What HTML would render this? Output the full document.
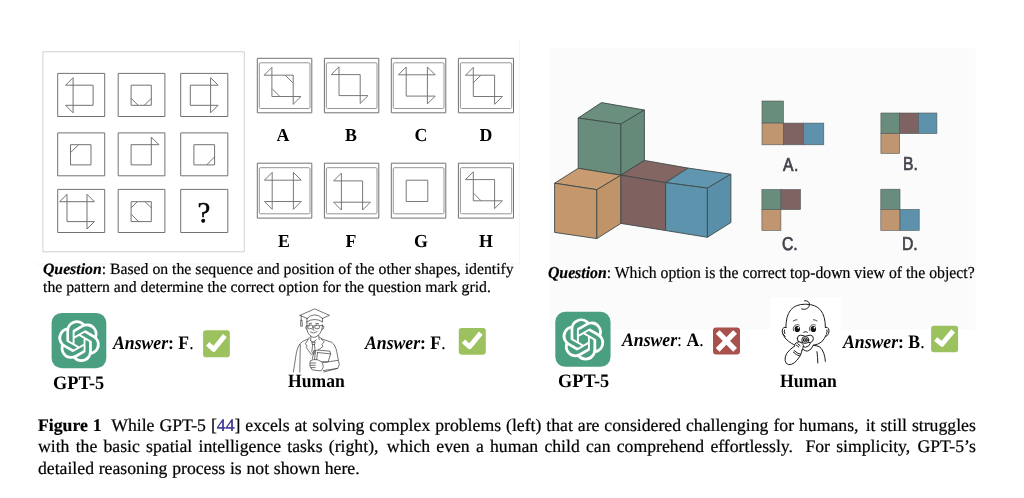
<!DOCTYPE html>
<html><head><meta charset="utf-8"><title>Figure 1</title>
<style>
html,body{margin:0;padding:0;background:#fff;}
body{width:1024px;height:498px;position:relative;overflow:hidden;font-family:"Liberation Serif",serif;color:#000;}
.abs{position:absolute;white-space:nowrap;line-height:1;will-change:transform;text-rendering:geometricPrecision;transform-origin:0 83.75%;}
#panel{position:absolute;left:549.3px;top:48.1px;width:426.1px;height:281.3px;background:#fbfbfb;}
svg#art{position:absolute;left:0;top:0;}
.lbl{font-weight:bold;font-size:17.8px;transform:translateX(-50%) scaleY(1.03);}
.q{font-size:15.75px;-webkit-text-stroke:0.2px #000;}
.ans{font-size:17.7px;transform:scaleY(1.07);}
.name{font-weight:bold;font-size:18.3px;transform:scaleY(1.04);}
.nameh{font-weight:bold;font-size:17.6px;transform:scaleY(1.07);}
.opt{font-family:"Liberation Sans",sans-serif;font-size:15.7px;color:#42424b;transform-origin:0 84.65%;transform:scaleY(1.185);-webkit-text-stroke:0.6px #42424b;}
.sp{display:inline-block;width:2.2px;}
.cap{-webkit-text-stroke:0.22px #000;font-size:17.7px;left:38.4px;width:937.8px;text-align:justify;text-align-last:justify;white-space:normal;}
b i, i b{font-weight:bold;font-style:italic;}
</style></head><body>
<svg id="art" width="1024" height="498" viewBox="0 0 1024 498">
<rect x="549.3" y="48.1" width="426.1" height="281.4" fill="#fbfbfb"/>
<defs><filter id="soft" x="-2%" y="-2%" width="104%" height="104%"><feGaussianBlur stdDeviation="0.5"/></filter><filter id="soft2" x="-5%" y="-5%" width="110%" height="110%"><feGaussianBlur stdDeviation="0.3"/></filter></defs>
<g>
<path d="M42.9 51.8H244.3V251.8H42.9Z" fill="none" stroke="#cfcfcf" stroke-width="0.95"/>
<path d="M57.7 73.4H104.7V116.5H57.7ZM57.7 132.9H104.7V175.8H57.7ZM57.7 189.4H104.7V232.5H57.7ZM118.2 73.4H164.9V116.5H118.2ZM118.2 132.9H164.9V175.8H118.2ZM118.2 189.4H164.9V232.5H118.2ZM180.7 73.4H227.8V116.5H180.7ZM180.7 132.9H227.8V175.8H180.7ZM180.7 189.4H227.8V232.5H180.7Z" fill="none" stroke="#727272" stroke-width="1"/>
<path d="M73.1 77.7V112.8M93.1 85.2V105.3M65.6 85.2H93.1M65.6 105.3H93.1M65.6 85.2L73.1 77.7M65.6 105.3L73.1 112.8M131.1 85.2V105.3M151.3 85.2V105.3M131.1 85.2H151.3M131.1 105.3H151.3M131.1 98.3L138.1 105.3M151.3 98.3L144.3 105.3M190.3 85.2V105.3M210.6 77.7V112.8M190.3 85.2H218.1M190.3 105.3H218.1M218.1 85.2L210.6 77.7M218.1 105.3L210.6 112.8M70.5 144.7V164.9M91 144.7V164.9M70.5 144.7H91M70.5 164.9H91M70.5 152.7L78.5 144.7M131.1 144.7V164.9M151.3 137.1V164.9M131.1 144.7H158.9M131.1 164.9H151.3M158.9 144.7L151.3 137.1M193.9 144.7V164.9M214.6 144.7V164.9M193.9 144.7H214.6M193.9 164.9H214.6M214.6 156.9L206.6 164.9M67 194.3V221.6M87 194.3V229M59.6 201.7H94.4M67 221.6H94.4M59.6 201.7L67 194.3M94.4 201.7L87 194.3M94.4 221.6L87 229M131.1 201.7V221.6M151.3 201.7V221.6M131.1 201.7H151.3M131.1 221.6H151.3M131.1 207.9L137.3 201.7M151.3 207.9L145.1 201.7M131.1 214.2L138.5 221.6" fill="none" stroke="#727272" stroke-width="1"/>
<path d="M257.3 58.3H311.8V112.8H257.3ZM257.3 163.2H311.8V218.1H257.3ZM324.4 58.3H378.8V112.8H324.4ZM324.4 163.2H378.8V218.1H324.4ZM391.3 58.3H445.8V112.8H391.3ZM391.3 163.2H445.8V218.1H391.3ZM458.4 58.3H513.5V112.8H458.4ZM458.4 163.2H513.5V218.1H458.4Z" fill="none" stroke="#727272" stroke-width="1"/>
<rect x="259.3" y="62.8" width="50.7" height="45.7" rx="1.2" fill="none" stroke="#909090" stroke-width="0.95"/>
<rect x="259.3" y="167.7" width="50.7" height="46.1" rx="1.2" fill="none" stroke="#909090" stroke-width="0.95"/>
<rect x="326.4" y="62.8" width="50.6" height="45.7" rx="1.2" fill="none" stroke="#909090" stroke-width="0.95"/>
<rect x="326.4" y="167.7" width="50.6" height="46.1" rx="1.2" fill="none" stroke="#909090" stroke-width="0.95"/>
<rect x="393.3" y="62.8" width="50.7" height="45.7" rx="1.2" fill="none" stroke="#909090" stroke-width="0.95"/>
<rect x="393.3" y="167.7" width="50.7" height="46.1" rx="1.2" fill="none" stroke="#909090" stroke-width="0.95"/>
<rect x="460.4" y="62.8" width="51.3" height="45.7" rx="1.2" fill="none" stroke="#909090" stroke-width="0.95"/>
<rect x="460.4" y="167.7" width="51.3" height="46.1" rx="1.2" fill="none" stroke="#909090" stroke-width="0.95"/>
<path d="M271.9 67.4V96.5M293.2 75.2V104.3M264.1 75.2H293.2M271.9 96.5H301M264.1 75.2L271.9 67.4M301 96.5L293.2 104.3M293.2 83.2L285.2 75.2M271.9 88.5L279.9 96.5M339 66.8V95.6M360.2 74.6V103.4M331.2 74.6H360.2M339 95.6H368M331.2 74.6L339 66.8M368 95.6L360.2 103.4M406.2 67V96.1M427.4 67V103.9M398.4 74.8H435.2M406.2 96.1H435.2M398.4 74.8L406.2 67M435.2 74.8L427.4 67M435.2 96.1L427.4 103.9M473.3 67.4V96.5M494.6 75.2V104.3M465.5 75.2H494.6M473.3 96.5H502.4M465.5 75.2L473.3 67.4M502.4 96.5L494.6 104.3M473.3 82.8L480.9 75.2M272.2 172.4V209.3M293.4 172.4V209.3M264.4 180.2H301.2M264.4 201.5H301.2M264.4 180.2L272.2 172.4M301.2 180.2L293.4 172.4M264.4 201.5L272.2 209.3M301.2 201.5L293.4 209.3M341.4 173.1V210M362.6 180.9V210M333.6 180.9H362.6M333.6 202.2H370.4M333.6 180.9L341.4 173.1M333.6 202.2L341.4 210M370.4 202.2L362.6 210M406.2 180.2V201.5M427.8 180.2V201.5M406.2 180.2H427.8M406.2 201.5H427.8M473.3 171.8V200.8M494.6 179.6V208.6M465.5 179.6H494.6M473.3 200.8H502.4M465.5 179.6L473.3 171.8M502.4 200.8L494.6 208.6M473.3 193L481.1 200.8" fill="none" stroke="#727272" stroke-width="0.95"/>
</g>
<polygon points="578.2,118 601.5,102.6 644.4,110 620.9,124.1" fill="#6a8f7e" stroke="#3f4a4a" stroke-width="0.9" stroke-linejoin="round"/>
<polygon points="578.2,118 620.9,124.1 620.9,175.2 578.2,168.3" fill="#688d7c" stroke="#3f4a4a" stroke-width="0.9" stroke-linejoin="round"/>
<polygon points="620.9,124.1 644.4,110 644.4,160.4 620.9,175.2" fill="#668a79" stroke="#3f4a4a" stroke-width="0.9" stroke-linejoin="round"/>
<polygon points="554.6,183.2 578.2,168.3 620.9,175.2 596.8,189.7" fill="#c89b70" stroke="#3f4a4a" stroke-width="0.9" stroke-linejoin="round"/>
<polygon points="554.6,183.2 596.8,189.7 596.8,238.6 554.6,232.4" fill="#c4976c" stroke="#3f4a4a" stroke-width="0.9" stroke-linejoin="round"/>
<polygon points="596.8,189.7 620.9,175.2 620.9,223.4 596.8,238.6" fill="#c09369" stroke="#3f4a4a" stroke-width="0.9" stroke-linejoin="round"/>
<polygon points="620.9,175.2 644.4,160.4 688.1,168.1 665.6,182.6" fill="#836562" stroke="#3f4a4a" stroke-width="0.9" stroke-linejoin="round"/>
<polygon points="620.9,175.2 665.6,182.6 665.6,230.5 620.9,223.4" fill="#7f6260" stroke="#3f4a4a" stroke-width="0.9" stroke-linejoin="round"/>
<polygon points="665.6,182.6 688.1,168.1 730.9,174.2 707.4,188.1" fill="#6096b0" stroke="#3f4a4a" stroke-width="0.9" stroke-linejoin="round"/>
<polygon points="665.6,182.6 707.4,188.1 707.4,237.3 665.6,230.5" fill="#5d93ad" stroke="#3f4a4a" stroke-width="0.9" stroke-linejoin="round"/>
<polygon points="707.4,188.1 730.9,174.2 730.9,222.5 707.4,237.3" fill="#5a8fa9" stroke="#3f4a4a" stroke-width="0.9" stroke-linejoin="round"/>
<rect x="762" y="101" width="21.5" height="22.1" fill="#698d7c" stroke="#4f5858" stroke-width="0.6"/>
<rect x="762" y="123.1" width="21.5" height="21.7" fill="#c09670" stroke="#4f5858" stroke-width="0.6"/>
<rect x="783.5" y="123.1" width="20" height="21.7" fill="#7f6362" stroke="#4f5858" stroke-width="0.6"/>
<rect x="803.5" y="123.1" width="20.3" height="21.7" fill="#5e91ab" stroke="#4f5858" stroke-width="0.6"/>
<rect x="880.9" y="113" width="18.7" height="20.6" fill="#698d7c" stroke="#4f5858" stroke-width="0.6"/>
<rect x="899.6" y="113" width="18.8" height="20.6" fill="#7f6362" stroke="#4f5858" stroke-width="0.6"/>
<rect x="918.4" y="113" width="18.5" height="20.6" fill="#5e91ab" stroke="#4f5858" stroke-width="0.6"/>
<rect x="880.9" y="133.6" width="18.7" height="19.8" fill="#c09670" stroke="#4f5858" stroke-width="0.6"/>
<rect x="761.9" y="189.5" width="19" height="20.1" fill="#698d7c" stroke="#4f5858" stroke-width="0.6"/>
<rect x="780.9" y="189.5" width="19.6" height="20.1" fill="#7f6362" stroke="#4f5858" stroke-width="0.6"/>
<rect x="761.9" y="209.6" width="19" height="20.8" fill="#c09670" stroke="#4f5858" stroke-width="0.6"/>
<rect x="880.8" y="189.2" width="19.2" height="20.2" fill="#698d7c" stroke="#4f5858" stroke-width="0.6"/>
<rect x="880.8" y="209.4" width="19.2" height="21" fill="#c09670" stroke="#4f5858" stroke-width="0.6"/>
<rect x="900" y="209.4" width="19.2" height="21" fill="#5e91ab" stroke="#4f5858" stroke-width="0.6"/>
<rect x="51.6" y="312.9" width="54.7" height="55.4" rx="10" fill="#4a9f80"/><path transform="translate(58.18 320.3) scale(1.74)" fill="#fff" d="M22.2819 9.8211a5.9847 5.9847 0 0 0-.5157-4.9108 6.0462 6.0462 0 0 0-6.5098-2.9A6.0651 6.0651 0 0 0 4.9807 4.1818a5.9847 5.9847 0 0 0-3.9977 2.9 6.0462 6.0462 0 0 0 .7427 7.0966 5.98 5.98 0 0 0 .511 4.9107 6.051 6.051 0 0 0 6.5146 2.9001A5.9847 5.9847 0 0 0 13.2599 24a6.0557 6.0557 0 0 0 5.7718-4.2058 5.9894 5.9894 0 0 0 3.9977-2.9001 6.0557 6.0557 0 0 0-.7475-7.0729zm-9.022 12.6081a4.4755 4.4755 0 0 1-2.8764-1.0408l.1419-.0804 4.7783-2.7582a.7948.7948 0 0 0 .3927-.6813v-6.7369l2.02 1.1686a.071.071 0 0 1 .038.052v5.5826a4.504 4.504 0 0 1-4.4945 4.4944zm-9.6607-4.1254a4.4708 4.4708 0 0 1-.5346-3.0137l.142.0852 4.783 2.7582a.7712.7712 0 0 0 .7806 0l5.8428-3.3685v2.3324a.0804.0804 0 0 1-.0332.0615L9.74 19.9502a4.4992 4.4992 0 0 1-6.1408-1.6464zM2.3408 7.8956a4.485 4.485 0 0 1 2.3655-1.9728V11.6a.7664.7664 0 0 0 .3879.6765l5.8144 3.3543-2.0201 1.1685a.0757.0757 0 0 1-.071 0l-4.8303-2.7865A4.504 4.504 0 0 1 2.3408 7.872zm16.5963 3.8558L13.1038 8.364 15.1192 7.2a.0757.0757 0 0 1 .071 0l4.8303 2.7913a4.4944 4.4944 0 0 1-.6765 8.1042v-5.6772a.79.79 0 0 0-.407-.667zm2.0107-3.0231l-.142-.0852-4.7735-2.7818a.7759.7759 0 0 0-.7854 0L9.409 9.2297V6.8974a.0662.0662 0 0 1 .0284-.0615l4.8303-2.7866a4.4992 4.4992 0 0 1 6.6802 4.66zM8.3065 12.863l-2.02-1.1638a.0804.0804 0 0 1-.038-.0567V6.0742a4.4992 4.4992 0 0 1 7.3757-3.4537l-.142.0805L8.704 5.459a.7948.7948 0 0 0-.3927.6813zm1.0976-2.3654l2.602-1.4998 2.6069 1.4998v2.9994l-2.5974 1.4997-2.6067-1.4997Z"/>
<rect x="555.3" y="311.75" width="55.25" height="55.1" rx="10" fill="#4a9f80"/><path transform="translate(562.38 318.4) scale(1.75)" fill="#fff" d="M22.2819 9.8211a5.9847 5.9847 0 0 0-.5157-4.9108 6.0462 6.0462 0 0 0-6.5098-2.9A6.0651 6.0651 0 0 0 4.9807 4.1818a5.9847 5.9847 0 0 0-3.9977 2.9 6.0462 6.0462 0 0 0 .7427 7.0966 5.98 5.98 0 0 0 .511 4.9107 6.051 6.051 0 0 0 6.5146 2.9001A5.9847 5.9847 0 0 0 13.2599 24a6.0557 6.0557 0 0 0 5.7718-4.2058 5.9894 5.9894 0 0 0 3.9977-2.9001 6.0557 6.0557 0 0 0-.7475-7.0729zm-9.022 12.6081a4.4755 4.4755 0 0 1-2.8764-1.0408l.1419-.0804 4.7783-2.7582a.7948.7948 0 0 0 .3927-.6813v-6.7369l2.02 1.1686a.071.071 0 0 1 .038.052v5.5826a4.504 4.504 0 0 1-4.4945 4.4944zm-9.6607-4.1254a4.4708 4.4708 0 0 1-.5346-3.0137l.142.0852 4.783 2.7582a.7712.7712 0 0 0 .7806 0l5.8428-3.3685v2.3324a.0804.0804 0 0 1-.0332.0615L9.74 19.9502a4.4992 4.4992 0 0 1-6.1408-1.6464zM2.3408 7.8956a4.485 4.485 0 0 1 2.3655-1.9728V11.6a.7664.7664 0 0 0 .3879.6765l5.8144 3.3543-2.0201 1.1685a.0757.0757 0 0 1-.071 0l-4.8303-2.7865A4.504 4.504 0 0 1 2.3408 7.872zm16.5963 3.8558L13.1038 8.364 15.1192 7.2a.0757.0757 0 0 1 .071 0l4.8303 2.7913a4.4944 4.4944 0 0 1-.6765 8.1042v-5.6772a.79.79 0 0 0-.407-.667zm2.0107-3.0231l-.142-.0852-4.7735-2.7818a.7759.7759 0 0 0-.7854 0L9.409 9.2297V6.8974a.0662.0662 0 0 1 .0284-.0615l4.8303-2.7866a4.4992 4.4992 0 0 1 6.6802 4.66zM8.3065 12.863l-2.02-1.1638a.0804.0804 0 0 1-.038-.0567V6.0742a4.4992 4.4992 0 0 1 7.3757-3.4537l-.142.0805L8.704 5.459a.7948.7948 0 0 0-.3927.6813zm1.0976-2.3654l2.602-1.4998 2.6069 1.4998v2.9994l-2.5974 1.4997-2.6067-1.4997Z"/>
<g transform="translate(203.1 330.3) scale(0.99 1)"><rect width="27" height="27" rx="2.8" fill="#9cc25f"/><path d="M4.6 13.5L10.8 19L22 5.3" fill="none" stroke="#fff" stroke-width="4.9" stroke-linejoin="round"/></g>
<g transform="translate(458.8 327.9) scale(1 0.99)"><rect width="27" height="27" rx="2.8" fill="#9cc25f"/><path d="M4.6 13.5L10.8 19L22 5.3" fill="none" stroke="#fff" stroke-width="4.9" stroke-linejoin="round"/></g>
<g transform="translate(713 327.4) scale(1 1)"><rect width="27" height="27" rx="3.2" fill="#a9514c"/><path d="M4.7 4.6L22.1 22.4M22.1 4.6L4.7 22.4" fill="none" stroke="#fff" stroke-width="5.3"/></g>
<g transform="translate(931.1 325.7) scale(1 0.98)"><rect width="27" height="27" rx="2.8" fill="#9cc25f"/><path d="M4.6 13.5L10.8 19L22 5.3" fill="none" stroke="#fff" stroke-width="4.9" stroke-linejoin="round"/></g>
<path d="M36 264H519.5V40" fill="none" stroke="#f4f4f4" stroke-width="1"/>

<g fill="none" stroke="#3a3a3a" stroke-width="0.7" stroke-linecap="round" stroke-linejoin="round">
<path d="M299.9 315.4L314.6 308.9L329.4 315.3L322.6 318.4M299.9 315.4L307 318.4"/>
<path d="M307 318.4Q314.6 311 322.6 318.4M307 318.4L306.9 321.8M322.6 318.4L322.6 321.8M306.9 321.8Q314.6 317 322.6 321.8"/>
<path d="M301.2 316V320.5M300.8 320.5L300.5 326.2H302.4L302 320.5Z"/>
<path d="M306.9 321.8L307 329.9Q307.6 333.4 309.5 334.9Q311.6 337.3 313.5 337.4Q316 337.3 317.9 335.6Q320.6 333.2 321.8 329.9L322.6 325.2"/>
<path d="M322.6 325.6Q324.2 325.6 323.8 327.6Q323.4 329.4 322 329.6M306.8 325.9Q305.3 326 305.8 327.8Q306.1 329.3 307 329.6"/>
<rect x="308" y="325.1" width="4.6" height="3.6" rx="1.4"/><rect x="314.8" y="325.1" width="4.6" height="3.6" rx="1.4"/>
<path d="M312.6 326H314.8M319.4 325.9L322.6 325.2M308 326L306.9 325.7"/>
<path d="M313.5 327.4L312.9 329.9L314.2 330.2M310.5 332.1Q313.4 334.4 317.1 331.7"/>
<path d="M309 323.6L311.6 323.3M315.8 323.3L318.4 323.6"/>
<path d="M310.8 336V340.2M318.7 335.4L319.2 339.5"/>
<path d="M310.3 340.2L312.9 342.8L316.1 339.9M312.2 341.9H315.1L314.5 344.5H312.7ZM312.7 344.5L311.8 351.8L313.7 354.7L315.1 351L314.5 344.5"/>
<path d="M309.3 337.6L305.4 343.8L307.2 346L306.2 347.4L311.5 354.7"/>
<path d="M319.5 337L324.2 341.9L321.9 344.5L323.1 346.3L318 350.3"/>
<path d="M307.9 339Q301.5 341.5 299.9 343.8Q297.5 347 296.3 353.2L293.4 372"/>
<path d="M300.3 344.6L299.8 372.2"/>
<path d="M321.3 338.7L331.8 342.4Q335.5 345 336.8 351.8L339.3 364.8L337.6 368.4L323.8 372"/>
<path d="M317.6 352.5L330.6 353.9L328.1 361.9L321.9 361.6M313.7 351L317.6 350L330 351.2L330.6 353.9M313.7 351L312.4 359M317.6 352.5L316.6 359.6M315.6 351.4L314.5 359.3"/>
<path d="M310.5 360.7Q313 359 317.3 359.7L321.9 361.9Q323.4 364.5 323.1 367.7L320.9 370.9L312.2 369.9L310.1 366.2Z"/>
<path d="M310.6 363H315.5M310.3 365.3H315.2M311 367.6H315.2"/>
<path d="M323.4 362.6L337.6 360.4M323.1 370.6L337.6 368.4"/>
</g>

<rect x="770.7" y="297.5" width="70" height="74" fill="#fff"/>
<g fill="none" stroke="#1e1e1e" stroke-width="1" stroke-linecap="round" stroke-linejoin="round">
<path d="M785.9 327.6C785.9 312.2 791.7 304.2 805.5 304.2C819.3 304.2 825.3 312.2 825.4 327.4"/>
<path d="M782.8 334Q784.6 338.6 788.5 341.3Q791 343.3 794.3 344.8M826.2 334.8Q824.6 339 821.4 342.1Q818 344.6 813.4 345.3"/>
<path d="M804.5 300.8Q806.8 300.4 808.1 301.6Q809.8 303 809.4 304.8Q809.2 306.8 807.7 308.1Q806.4 309.2 804.5 309.3Q803 309.4 801.7 308.9"/>
<path d="M786 327.4Q783.6 326.8 782.6 328.8Q781.8 331 782.6 333.2Q783.4 335.4 785.2 336.4M784.4 330Q783.8 331.6 784.8 333.6M825.4 327.4Q827.6 326.6 828.6 328.8Q829.4 331 828.6 333.4Q827.8 335.6 826 336.4M827 330Q827.6 331.8 826.6 333.6"/>
<path d="M793.3 320.9Q795 319.8 796.9 319.7M813.4 319.7Q815.4 319.8 817 320.9" stroke-width="0.8"/>
<path d="M803.7 332.2Q805.5 330.8 807.3 332.2"/>
<path d="M797.3 338.6Q797.3 335.4 800.4 335.2Q803 335.4 805.3 336.3Q807.8 335.4 810.4 335.2Q813.4 335.4 813.4 338.6Q813.3 341.8 810.6 342.4Q808 342.6 805.3 342.2Q802.6 342.6 800 342.4Q797.4 341.8 797.3 338.6Z" fill="#fff"/>
<path d="M800.7 343.3Q801.2 346.6 805.3 347.3Q809.6 346.8 810.6 342.9"/>
<circle cx="805.3" cy="340" r="3.5" fill="#fff"/><circle cx="805.3" cy="340" r="2"/><circle cx="805.3" cy="340" r="0.7"/>
<path d="M794.5 346.1Q794.6 343.8 796.1 342.9Q797.6 341.8 799.3 341.9Q801.2 342.2 802.1 343.3Q803.2 344.4 803.3 345.7Q803.4 348 802.1 350.1" fill="#fff"/>
<path d="M797.7 343.7L800.1 345.7M796.4 345.2L798.8 347"/>
<path d="M794.5 346.1Q789.6 349.4 786.8 353.3Q784.6 357 785.1 360.5Q785.8 364.2 788.5 364.6Q791.6 364.8 794.1 363Q797.4 360.4 799.7 356.5Q801.4 353.4 802.1 350.1"/>
<path d="M794.1 350.5Q797 353.4 800.9 354.5M793.3 352.1Q796.2 355 799.7 356.1"/>
<path d="M803.3 349.7Q805.4 351.2 807.7 351.1Q811.2 350.2 813.4 345.3"/>
<path d="M813.4 345.3Q817.4 345.6 819.8 346.9Q822.6 349.6 823.8 353.3Q825.2 357.6 825.4 361.4M817 351.7Q817.8 357.6 817.8 363"/>
</g>
<g fill="none" stroke="#262626" stroke-width="0.75"><path d="M793.6 331.2Q792.2 327.6 794.8 325.4Q797 323.8 799.6 325.2M809.8 331.2Q808.4 327.6 811 325.4Q813.2 323.8 815.8 325.2"/></g>
<g stroke="none" fill="#111">
<ellipse cx="797.3" cy="329" rx="2.7" ry="3.1"/><ellipse cx="813.4" cy="329" rx="2.7" ry="3.1"/>
</g>
<circle cx="798.3" cy="327.7" r="0.85" fill="#fff"/><circle cx="814.4" cy="327.7" r="0.85" fill="#fff"/>

</svg>
<div class="abs" id="qm" style="left:203.8px;top:199px;font-size:28.8px;transform:translateX(-50%);-webkit-text-stroke:0.5px #000;">?</div>

<div class="abs lbl" style="left:282.80px;top:127.00px;">A</div>
<div class="abs lbl" style="left:351.00px;top:127.00px;">B</div>
<div class="abs lbl" style="left:421.10px;top:127.00px;">C</div>
<div class="abs lbl" style="left:486.20px;top:127.00px;">D</div>
<div class="abs lbl" style="left:283.85px;top:233.00px;">E</div>
<div class="abs lbl" style="left:350.70px;top:233.00px;">F</div>
<div class="abs lbl" style="left:420.60px;top:233.00px;">G</div>
<div class="abs lbl" style="left:485.60px;top:233.00px;">H</div>

<div class="abs q" id="q1" style="left:42.7px;top:261.5px;"><b><i>Question</i></b>: Based on the sequence and position of the other shapes, identify</div>
<div class="abs q" id="q2" style="left:42.7px;top:279.6px;">the pattern and determine the correct option for the question mark grid.</div>
<div class="abs q" id="q3" style="left:548px;top:266.2px;transform:scaleY(1.06);"><b><i>Question</i></b>: Which option is the correct top-down view of the object?</div>

<div class="abs ans" id="a1" style="left:112.90px;top:334.80px;"><b><i>Answer</i>: F</b>.</div>
<div class="abs ans" id="a2" style="left:364.90px;top:334.55px;"><b><i>Answer</i>: F</b>.</div>
<div class="abs ans" id="a3" style="left:621.70px;top:332.30px;"><b><i>Answer</i></b>: <b>A</b>.</div>
<div class="abs ans" id="a4" style="left:842.50px;top:334.20px;"><b><i>Answer</i>: B</b>.</div>

<div class="abs name" id="n1" style="left:53.00px;top:373.90px;">GPT-5</div>
<div class="abs nameh" id="n2" style="left:288.10px;top:373.25px;">Human</div>
<div class="abs name" id="n3" style="left:557.80px;top:372.00px;">GPT-5</div>
<div class="abs nameh" id="n4" style="left:779.80px;top:372.85px;">Human</div>

<div class="abs opt" style="left:783.3px;top:158.7px;letter-spacing:0.6px;">A.</div>
<div class="abs opt" style="left:903.2px;top:157.9px;">B.</div>
<div class="abs opt" style="left:781.8px;top:237.9px;">C.</div>
<div class="abs opt" style="left:902.4px;top:237.9px;">D.</div>

<div class="abs cap" id="c1" style="top:416.6px;"><b>Figure 1</b>&nbsp; While GPT-5 [<span style="color:#3d35c4">44</span>] excels at solving complex problems (left) that are considered challenging for humans,<span class="sp"></span> it still struggles</div>
<div class="abs cap" id="c2" style="top:438.2px;">with the basic spatial intelligence tasks (right),<span class="sp"></span> which even a human child can comprehend effortlessly.&nbsp; For simplicity,<span class="sp" style="width:1px"></span> GPT-5’s</div>
<div class="abs cap" id="c3" style="top:459.7px;text-align-last:left;word-spacing:0.3px;">detailed reasoning process is not shown here.</div>
</body></html>
